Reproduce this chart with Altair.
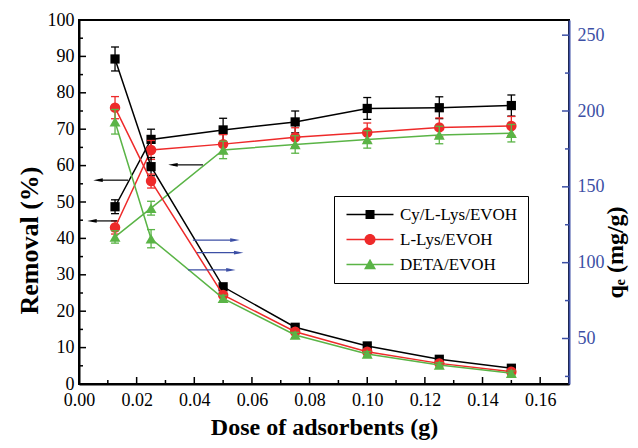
import altair as alt
import pandas as pd

# ---------------- data ----------------
dose = [0.0125, 0.025, 0.05, 0.075, 0.1, 0.125, 0.15]
series_names = ["Cy/L-Lys/EVOH", "L-Lys/EVOH", "DETA/EVOH"]
series_colors = ["#000000", "#ee2a2a", "#5ab446"]
series_shapes = ["square", "circle", "triangle-up"]
series_sizes = [85, 110, 120]

removal_cy = [48.7, 67.2, 69.8, 72.0, 75.7, 75.9, 76.5]
removal_lys = [43.0, 64.3, 65.9, 67.8, 69.1, 70.5, 70.9]
removal_deta = [40.4, 48.3, 64.3, 65.8, 67.2, 68.4, 68.9]
removal_cy_err = [1.9, 2.8, 3.2, 3.0, 3.0, 3.0, 2.9]
removal_lys_err = [1.8, 2.6, 2.6, 2.6, 2.6, 2.6, 2.6]
removal_deta_err = [1.7, 1.9, 2.4, 2.4, 2.4, 2.4, 2.4]

qe_cy = [234.3, 163.3, 84.1, 57.4, 45.1, 36.3, 30.4]
qe_lys = [202.2, 153.8, 78.7, 54.5, 41.3, 33.6, 28.1]
qe_deta = [192.9, 115.8, 76.5, 52.3, 39.8, 32.5, 27.1]
qe_cy_err = [7.9, 6.0, 1.2, 1.0, 1.0, 1.0, 1.0]
qe_lys_err = [7.3, 4.6, 1.5, 1.2, 1.2, 1.0, 1.0]
qe_deta_err = [8.1, 6.0, 2.0, 1.8, 1.6, 1.5, 1.5]

# annotation arrows (black ones point to the Removal axis, blue ones to the q_e axis)
left_arrow_y = [56.0, 44.8, 60.2]
left_arrow_tail = [0.0170, 0.0132, 0.0430]
left_arrow_head = [0.0066, 0.0045, 0.0326]
right_arrow_y = [114.9, 106.6, 95.2]
right_arrow_tail = [0.0395, 0.0409, 0.0378]
right_arrow_head = [0.0541, 0.0554, 0.0527]

x_major = [0.0, 0.02, 0.04, 0.06, 0.08, 0.10, 0.12, 0.14, 0.16]
x_minor = [0.01, 0.03, 0.05, 0.07, 0.09, 0.11, 0.13, 0.15]
left_major = [0, 10, 20, 30, 40, 50, 60, 70, 80, 90, 100]
left_minor = [5, 15, 25, 35, 45, 55, 65, 75, 85, 95]
right_major = [50, 100, 150, 200, 250]
right_minor = [25, 75, 125, 175, 225]

# ---------------- styling ----------------
FONT = "Liberation Serif"
BLUE = "#3c4fa5"
W, H = 490, 364

# legend symbols: line segment + marker (unit = 6 px, symbol centre 6 px from entry start)
legend_paths = [
    "M-1,-0.125H6.83V0.125H-1Z M2.17,-0.75H3.67V0.75H2.17Z",
    "M-1,-0.125H6.83V0.125H-1Z M2.0,0A0.92,0.92 0 1,1 3.84,0A0.92,0.92 0 1,1 2.0,0Z",
    "M-1,-0.125H6.83V0.125H-1Z M2.92,-0.95L3.92,0.8H1.92Z",
]


def build(vals_list, errs_list):
    rows = []
    for name, vals, errs in zip(series_names, vals_list, errs_list):
        for d, v, e in zip(dose, vals, errs):
            rows.append(dict(series=name, dose=d, value=v, lo=v - e, hi=v + e))
    return pd.DataFrame(rows)


rem_df = build([removal_cy, removal_lys, removal_deta],
               [removal_cy_err, removal_lys_err, removal_deta_err])
qe_df = build([qe_cy, qe_lys, qe_deta], [qe_cy_err, qe_lys_err, qe_deta_err])

x_scale = alt.Scale(domain=[0, 0.17], nice=False, zero=False)
x_axis = alt.Axis(values=x_major, format=".2f", ticks=False, grid=False,
                  domainColor="black", domainWidth=2,
                  labelFont=FONT, labelFontSize=18, labelColor="black",
                  labelPadding=7, labelFlush=False, labelOverlap=False,
                  title="Dose of adsorbents (g)", titleFont=FONT,
                  titleFontSize=24, titleFontWeight="bold", titleColor="black",
                  titlePadding=6)

left_scale = alt.Scale(domain=[0, 100], nice=False, zero=False)
left_axis = alt.Axis(orient="left", values=left_major, ticks=False, grid=False,
                     domainColor="black", domainWidth=2,
                     labelFont=FONT, labelFontSize=18, labelColor="black",
                     labelPadding=5, labelFlush=False, labelOverlap=False,
                     title="Removal (%)", titleFont=FONT, titleFontSize=26,
                     titleFontWeight="bold", titleColor="black",
                     titleAngle=270, titleX=-50, titleY=220,
                     titleAlign="center", titleBaseline="middle")

right_scale = alt.Scale(domain=[20, 260], nice=False, zero=False)
right_axis = alt.Axis(orient="right", values=right_major, ticks=False, grid=False,
                      domainColor=BLUE, domainWidth=2,
                      labelFont=FONT, labelFontSize=18, labelColor=BLUE,
                      labelPadding=8, labelFlush=False, labelOverlap=False,
                      title="qₑ (mg/g)", titleFont=FONT, titleFontSize=24,
                      titleFontWeight="bold", titleColor="black",
                      titleAngle=270, titleX=46, titleY=232,
                      titleAlign="center", titleBaseline="middle")


def X(field):
    return alt.X(f"{field}:Q", scale=x_scale, axis=x_axis)


def series_layers(df, y_scale, y_axis):
    def Y(field):
        return alt.Y(f"{field}:Q", scale=y_scale, axis=y_axis)

    layers = []
    for name, c, shp, sz in zip(series_names, series_colors, series_shapes, series_sizes):
        base = alt.Chart(df).transform_filter(alt.datum.series == name)
        layers += [
            base.mark_line(strokeWidth=1.5, color=c).encode(x=X("dose"), y=Y("value")),
            base.mark_rule(strokeWidth=1.3, color=c).encode(x=X("dose"), y=Y("lo"), y2="hi"),
            base.mark_tick(orient="horizontal", size=8, thickness=1.3, color=c, opacity=1).encode(
                x=X("dose"), y=Y("lo")),
            base.mark_tick(orient="horizontal", size=8, thickness=1.3, color=c, opacity=1).encode(
                x=X("dose"), y=Y("hi")),
            base.mark_point(shape=shp, filled=True, size=sz, opacity=1, color=c).encode(
                x=X("dose"), y=Y("value")),
        ]
    return layers, Y


# ----- left group (Removal) -----
left_layers, YL = series_layers(rem_df, left_scale, left_axis)

la_df = pd.DataFrame({"y": left_arrow_y, "tail": left_arrow_tail, "head": left_arrow_head})
left_layers.append(alt.Chart(la_df).mark_rule(color="black", strokeWidth=1.2).encode(
    x=X("tail"), x2="head", y=YL("y")))
left_layers.append(alt.Chart(la_df).mark_point(
    shape="M-1,0L1,-0.4L1,0.4Z", filled=True, size=90, opacity=1, color="black").encode(
    x=X("head"), y=YL("y")))

# inner ticks: left axis and bottom axis
lmaj = pd.DataFrame({"v": left_major})
lmin = pd.DataFrame({"v": left_minor})
left_layers.append(alt.Chart(lmaj).mark_rule(color="black", strokeWidth=1.5).encode(
    y=YL("v"), x=alt.value(0), x2=alt.value(7)))
left_layers.append(alt.Chart(lmin).mark_rule(color="black", strokeWidth=1.5).encode(
    y=YL("v"), x=alt.value(0), x2=alt.value(4)))
xmaj = pd.DataFrame({"v": x_major})
xmin = pd.DataFrame({"v": x_minor})
left_layers.append(alt.Chart(xmaj).mark_rule(color="black", strokeWidth=1.5).encode(
    x=X("v"), y=alt.value(H), y2=alt.value(H - 7)))
left_layers.append(alt.Chart(xmin).mark_rule(color="black", strokeWidth=1.5).encode(
    x=X("v"), y=alt.value(H), y2=alt.value(H - 4)))

# legend provider: invisible marks, visible legend symbols (line + marker)
leg = alt.Legend(title=None, orient="none", legendX=255, legendY=176,
                 padding=10, strokeColor="black", fillColor="white",
                 labelFont=FONT, labelFontSize=17, labelColor="black",
                 labelLimit=300, labelOffset=39, rowPadding=7,
                 symbolSize=144, symbolStrokeWidth=0, symbolOpacity=1)
left_layers.append(
    alt.Chart(rem_df).mark_point(filled=True, opacity=0).encode(
        color=alt.Color("series:N", scale=alt.Scale(domain=series_names, range=series_colors), legend=leg),
        shape=alt.Shape("series:N", scale=alt.Scale(domain=series_names, range=legend_paths), legend=leg),
    )
)

# ----- right group (q_e) -----
right_layers, YR = series_layers(qe_df, right_scale, right_axis)

ra_df = pd.DataFrame({"y": right_arrow_y, "tail": right_arrow_tail, "head": right_arrow_head})
right_layers.append(alt.Chart(ra_df).mark_rule(color=BLUE, strokeWidth=1.2).encode(
    x=X("tail"), x2="head", y=YR("y")))
right_layers.append(alt.Chart(ra_df).mark_point(
    shape="M1,0L-1,-0.4L-1,0.4Z", filled=True, size=90, opacity=1, color=BLUE).encode(
    x=X("head"), y=YR("y")))

rmaj = pd.DataFrame({"v": right_major})
rmin = pd.DataFrame({"v": right_minor})
right_layers.append(alt.Chart(rmaj).mark_rule(color=BLUE, strokeWidth=1.5).encode(
    y=YR("v"), x=alt.value(W), x2=alt.value(W - 7)))
right_layers.append(alt.Chart(rmin).mark_rule(color=BLUE, strokeWidth=1.5).encode(
    y=YR("v"), x=alt.value(W), x2=alt.value(W - 4)))

chart = (
    alt.layer(alt.layer(*left_layers), alt.layer(*right_layers))
    .resolve_scale(y="independent")
    .properties(width=W, height=H,
                autosize=alt.AutoSizeParams(type="none"),
                padding={"left": 71, "top": 12, "right": 61, "bottom": 56},
                background="white")
    .configure_view(stroke="black", strokeWidth=2)
)

chart.save("out.html", embed_options={"renderer": "svg", "actions": False})
